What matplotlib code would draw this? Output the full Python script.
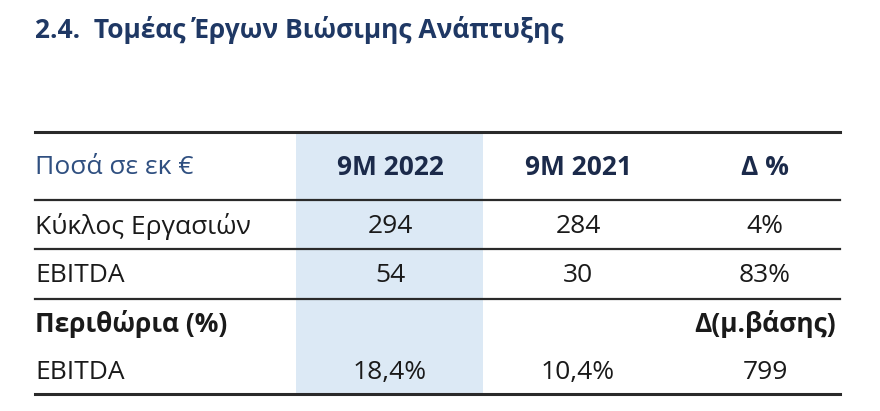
import matplotlib
matplotlib.use("Agg")
import matplotlib.pyplot as plt
from matplotlib.patches import Rectangle

title = "2.4.  Τομέας Έργων Βιώσιμης Ανάπτυξης"
header = ["Ποσά σε εκ €", "9M 2022", "9M 2021", "Δ %"]
rows = [
    ["Κύκλος Εργασιών", "294", "284", "4%"],
    ["EBITDA", "54", "30", "83%"],
    ["Περιθώρια (%)", "", "", "Δ(μ.βάσης)"],
    ["EBITDA", "18,4%", "10,4%", "799"],
]
bold_rows = [2]

fig = plt.figure(figsize=(8.8, 4.11), dpi=100)
ax = fig.add_axes([0, 0, 1, 1])
ax.set_xlim(0, 880); ax.set_ylim(411, 0); ax.axis("off")
fam = ["Open Sans", "DejaVu Sans"]
ax.text(35, 30, title, fontsize=19, fontweight="bold", color="#1F3864", va="center", family=fam)
ax.add_patch(Rectangle((296, 132), 187, 262, color="#DCE9F5", lw=0))
for y, w in [(132, 2.2), (200, 1.6), (249, 1.6), (299, 1.6), (394, 2.2)]:
    ax.plot([35, 840], [y, y], color="#2a2a2a", lw=w)
cx = [390, 578, 765]
ax.text(35, 167, header[0], fontsize=19, color="#2F4F80", va="center", family=fam)
for x, h in zip(cx, header[1:]):
    ax.text(x, 167, h, fontsize=19, fontweight="bold", color="#1B2A4A", va="center", ha="center", family=fam)
ys = [226, 275, 324, 372]
for i, (y, r) in enumerate(zip(ys, rows)):
    wt = "bold" if i in bold_rows else "normal"
    ax.text(35, y, r[0], fontsize=19, fontweight=wt, color="#1a1a1a", va="center", family=fam)
    for x, v in zip(cx, r[1:]):
        ax.text(x, y, v, fontsize=19, fontweight=wt, color="#1a1a1a", va="center", ha="center", family=fam)
fig.savefig("out.png", dpi=100)
